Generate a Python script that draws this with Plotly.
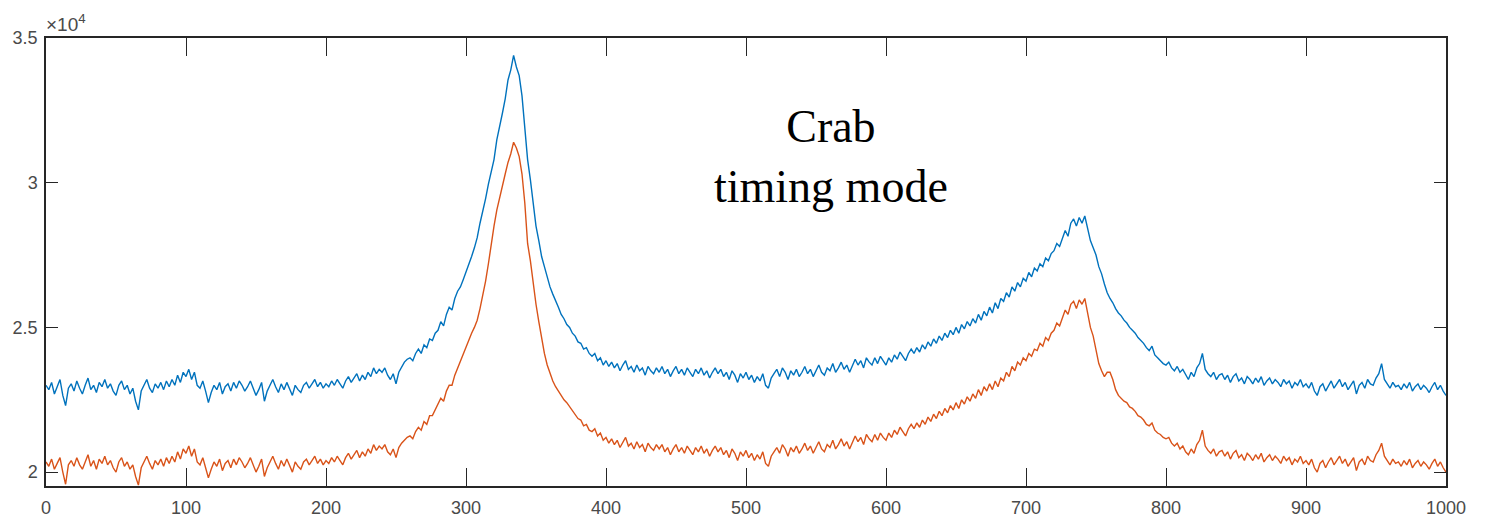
import plotly.graph_objects as go

# phase bins (every 2nd bin)
phase_bins = list(range(0, 1001, 2))

# blue series, counts in units of 10^4
blue_counts = [
    2.300, 2.285, 2.310, 2.270, 2.295, 2.320, 2.265, 2.230, 2.290, 2.305,
    2.280, 2.315, 2.290, 2.270, 2.300, 2.325, 2.285, 2.300, 2.275, 2.310,
    2.295, 2.320, 2.290, 2.305, 2.280, 2.265, 2.300, 2.315, 2.285, 2.300,
    2.270, 2.290, 2.245, 2.215, 2.280, 2.300, 2.320, 2.290, 2.275, 2.305,
    2.290, 2.310, 2.285, 2.315, 2.295, 2.320, 2.300, 2.335, 2.310, 2.345,
    2.330, 2.355, 2.320, 2.345, 2.300, 2.290, 2.315, 2.280, 2.240, 2.275,
    2.300, 2.285, 2.310, 2.270, 2.295, 2.305, 2.280, 2.310, 2.290, 2.315,
    2.300, 2.280, 2.295, 2.315, 2.290, 2.265, 2.285, 2.310, 2.245, 2.280,
    2.300, 2.320, 2.295, 2.275, 2.305, 2.285, 2.310, 2.290, 2.265, 2.300,
    2.285, 2.275, 2.300, 2.310, 2.290, 2.305, 2.320, 2.295, 2.310, 2.290,
    2.305, 2.295, 2.315, 2.300, 2.320, 2.305, 2.290, 2.315, 2.330, 2.310,
    2.325, 2.340, 2.315, 2.335, 2.320, 2.345, 2.330, 2.360, 2.340, 2.355,
    2.345, 2.360, 2.335, 2.320, 2.340, 2.305, 2.345, 2.365, 2.380, 2.390,
    2.395, 2.385, 2.410, 2.425, 2.410, 2.440, 2.430, 2.460, 2.455, 2.480,
    2.490, 2.520, 2.505, 2.545, 2.570, 2.560, 2.600, 2.625, 2.640, 2.665,
    2.690, 2.720, 2.745, 2.775, 2.810, 2.860, 2.900, 2.945, 2.995, 3.040,
    3.080, 3.148, 3.190, 3.240, 3.290, 3.355, 3.390, 3.440, 3.400, 3.370,
    3.300, 3.200, 3.080, 3.010, 2.920, 2.850, 2.800, 2.745, 2.710, 2.675,
    2.640, 2.615, 2.595, 2.570, 2.545, 2.530, 2.510, 2.500, 2.480, 2.470,
    2.450, 2.445, 2.425, 2.430, 2.410, 2.400, 2.410, 2.385, 2.395, 2.370,
    2.385, 2.365, 2.380, 2.360, 2.375, 2.350, 2.370, 2.385, 2.355, 2.365,
    2.345, 2.370, 2.350, 2.360, 2.335, 2.365, 2.350, 2.340, 2.360, 2.345,
    2.365, 2.340, 2.355, 2.330, 2.350, 2.365, 2.340, 2.355, 2.335, 2.360,
    2.345, 2.330, 2.355, 2.340, 2.360, 2.335, 2.350, 2.325, 2.345, 2.360,
    2.340, 2.355, 2.330, 2.345, 2.320, 2.350, 2.335, 2.310, 2.340, 2.325,
    2.345, 2.320, 2.335, 2.310, 2.330, 2.315, 2.340, 2.300, 2.290, 2.325,
    2.340, 2.355, 2.330, 2.360, 2.345, 2.320, 2.350, 2.335, 2.355, 2.330,
    2.345, 2.365, 2.340, 2.355, 2.330, 2.350, 2.370, 2.345, 2.335, 2.360,
    2.350, 2.375, 2.345, 2.360, 2.380, 2.355, 2.370, 2.345, 2.365, 2.390,
    2.370, 2.385, 2.360, 2.395, 2.380, 2.370, 2.395, 2.375, 2.400, 2.385,
    2.370, 2.395, 2.380, 2.405, 2.390, 2.415, 2.400, 2.385, 2.410, 2.425,
    2.410, 2.430, 2.415, 2.440, 2.425, 2.450, 2.435, 2.460, 2.445, 2.470,
    2.455, 2.480, 2.465, 2.490, 2.475, 2.500, 2.480, 2.510, 2.495, 2.520,
    2.505, 2.530, 2.515, 2.545, 2.525, 2.555, 2.540, 2.570, 2.550, 2.585,
    2.565, 2.600, 2.590, 2.620, 2.605, 2.640, 2.625, 2.655, 2.640, 2.670,
    2.660, 2.690, 2.675, 2.705, 2.695, 2.720, 2.710, 2.740, 2.730, 2.755,
    2.765, 2.790, 2.780, 2.810, 2.835, 2.815, 2.860, 2.875, 2.850, 2.880,
    2.860, 2.885, 2.840, 2.800, 2.775, 2.750, 2.710, 2.685, 2.650, 2.620,
    2.600, 2.585, 2.565, 2.550, 2.540, 2.525, 2.515, 2.500, 2.490, 2.480,
    2.465, 2.455, 2.445, 2.430, 2.420, 2.435, 2.405, 2.395, 2.385, 2.375,
    2.370, 2.380, 2.360, 2.350, 2.365, 2.345, 2.355, 2.335, 2.320, 2.345,
    2.330, 2.360, 2.375, 2.410, 2.355, 2.340, 2.330, 2.345, 2.320, 2.335,
    2.340, 2.320, 2.335, 2.310, 2.330, 2.340, 2.315, 2.325, 2.305, 2.330,
    2.320, 2.305, 2.325, 2.310, 2.330, 2.300, 2.315, 2.325, 2.305, 2.320,
    2.310, 2.295, 2.320, 2.305, 2.315, 2.290, 2.310, 2.300, 2.320, 2.295,
    2.305, 2.290, 2.310, 2.280, 2.265, 2.295, 2.305, 2.280, 2.300, 2.315,
    2.290, 2.305, 2.320, 2.295, 2.310, 2.285, 2.300, 2.315, 2.270, 2.300,
    2.310, 2.290, 2.320, 2.305, 2.300, 2.325, 2.340, 2.375, 2.320, 2.305,
    2.290, 2.310, 2.295, 2.300, 2.285, 2.305, 2.290, 2.310, 2.280, 2.295,
    2.305, 2.285, 2.300, 2.290, 2.275, 2.295, 2.310, 2.285, 2.300, 2.280,
    2.265,
]

# orange series, counts in units of 10^4
orange_counts = [
    2.035, 2.020, 2.045, 2.010, 2.030, 2.050, 2.000, 1.958, 2.025, 2.040,
    2.020, 2.050, 2.025, 2.010, 2.035, 2.060, 2.020, 2.040, 2.010, 2.045,
    2.030, 2.055, 2.025, 2.040, 2.015, 2.000, 2.035, 2.050, 2.020, 2.035,
    2.010, 2.025, 1.985, 1.955, 2.015, 2.035, 2.055, 2.030, 2.010, 2.040,
    2.025, 2.045, 2.020, 2.050, 2.030, 2.055, 2.035, 2.070, 2.045, 2.080,
    2.065, 2.090, 2.055, 2.080, 2.035, 2.025, 2.050, 2.015, 1.980, 2.010,
    2.035, 2.020, 2.045, 2.005, 2.030, 2.040, 2.015, 2.045, 2.025, 2.050,
    2.035, 2.015, 2.030, 2.050, 2.025, 2.000, 2.020, 2.045, 1.985, 2.015,
    2.035, 2.055, 2.030, 2.010, 2.040, 2.020, 2.045, 2.025, 2.000, 2.035,
    2.020, 2.010, 2.035, 2.045, 2.025, 2.040, 2.055, 2.030, 2.045, 2.025,
    2.040, 2.030, 2.050, 2.035, 2.055, 2.040, 2.025, 2.050, 2.065, 2.045,
    2.060, 2.075, 2.050, 2.070, 2.055, 2.080, 2.065, 2.095, 2.075, 2.090,
    2.080, 2.095, 2.070, 2.060, 2.080, 2.050, 2.085, 2.100, 2.110, 2.120,
    2.125, 2.115, 2.140, 2.155, 2.145, 2.175, 2.165, 2.195, 2.195, 2.215,
    2.230, 2.255, 2.245, 2.280, 2.300, 2.300, 2.335, 2.360, 2.380, 2.405,
    2.430, 2.455, 2.480, 2.500, 2.525, 2.565, 2.610, 2.660, 2.720, 2.790,
    2.850, 2.905, 2.950, 2.985, 3.030, 3.070, 3.100, 3.140, 3.120, 3.090,
    3.030, 2.930, 2.790, 2.730, 2.650, 2.580, 2.520, 2.460, 2.410, 2.370,
    2.340, 2.315, 2.295, 2.280, 2.265, 2.250, 2.240, 2.226, 2.215, 2.200,
    2.185, 2.180, 2.160, 2.165, 2.145, 2.140, 2.150, 2.125, 2.135, 2.110,
    2.120, 2.100, 2.115, 2.095, 2.110, 2.085, 2.105, 2.120, 2.090, 2.100,
    2.080, 2.105, 2.085, 2.095, 2.070, 2.100, 2.085, 2.075, 2.095, 2.080,
    2.095, 2.070, 2.085, 2.060, 2.080, 2.095, 2.070, 2.085, 2.065, 2.090,
    2.075, 2.060, 2.085, 2.070, 2.090, 2.065, 2.080, 2.055, 2.075, 2.090,
    2.070, 2.085, 2.060, 2.075, 2.050, 2.080, 2.065, 2.040, 2.070, 2.055,
    2.075, 2.050, 2.065, 2.040, 2.060, 2.045, 2.070, 2.030, 2.020, 2.055,
    2.070, 2.085, 2.065, 2.095, 2.080, 2.055, 2.085, 2.070, 2.090, 2.065,
    2.080, 2.100, 2.075, 2.090, 2.065, 2.085, 2.105, 2.080, 2.070, 2.095,
    2.085, 2.110, 2.080, 2.095, 2.115, 2.090, 2.105, 2.080, 2.100, 2.125,
    2.105, 2.120, 2.095, 2.130, 2.115, 2.105, 2.130, 2.110, 2.135, 2.120,
    2.110, 2.135, 2.120, 2.145, 2.130, 2.155, 2.140, 2.125, 2.150, 2.165,
    2.150, 2.170, 2.155, 2.180, 2.165, 2.190, 2.175, 2.200, 2.185, 2.210,
    2.195, 2.220, 2.205, 2.230, 2.215, 2.240, 2.220, 2.250, 2.235, 2.260,
    2.245, 2.270, 2.255, 2.285, 2.265, 2.295, 2.280, 2.305, 2.285, 2.315,
    2.295, 2.325, 2.315, 2.345, 2.330, 2.365, 2.350, 2.380, 2.370, 2.395,
    2.385, 2.410, 2.400, 2.425, 2.420, 2.445, 2.435, 2.465, 2.455, 2.480,
    2.490, 2.515, 2.505, 2.535, 2.560, 2.545, 2.580, 2.590, 2.565, 2.595,
    2.580, 2.600, 2.545, 2.500, 2.470, 2.420, 2.375, 2.350, 2.330, 2.345,
    2.345, 2.320, 2.285, 2.265, 2.255, 2.245, 2.240, 2.225, 2.220, 2.210,
    2.195, 2.190, 2.180, 2.165, 2.160, 2.170, 2.145, 2.135, 2.130, 2.120,
    2.115, 2.120, 2.100, 2.090, 2.100, 2.080, 2.090, 2.070, 2.060, 2.080,
    2.065, 2.095, 2.110, 2.145, 2.090, 2.075, 2.065, 2.080, 2.055, 2.070,
    2.075, 2.055, 2.070, 2.045, 2.065, 2.075, 2.050, 2.060, 2.040, 2.065,
    2.055, 2.040, 2.060, 2.045, 2.065, 2.035, 2.050, 2.060, 2.040, 2.055,
    2.045, 2.030, 2.055, 2.040, 2.050, 2.025, 2.045, 2.035, 2.055, 2.030,
    2.040, 2.025, 2.045, 2.015, 2.000, 2.030, 2.040, 2.015, 2.035, 2.050,
    2.025, 2.040, 2.055, 2.030, 2.045, 2.020, 2.035, 2.050, 2.005, 2.035,
    2.045, 2.025, 2.055, 2.040, 2.035, 2.060, 2.075, 2.100, 2.055, 2.040,
    2.025, 2.045, 2.030, 2.035, 2.020, 2.040, 2.025, 2.045, 2.015, 2.030,
    2.040, 2.020, 2.035, 2.025, 2.010, 2.030, 2.045, 2.020, 2.035, 2.015,
    2.000,
]

x_tick_vals = list(range(0, 1001, 100))
x_tick_text = [str(v) for v in x_tick_vals]
y_tick_vals = [2.0, 2.5, 3.0, 3.5]
y_tick_text = ["2", "2.5", "3", "3.5"]

fig = go.Figure()
fig.add_trace(go.Scatter(x=phase_bins, y=blue_counts, mode="lines",
                         line=dict(color="#0072BD", width=1.4), showlegend=False))
fig.add_trace(go.Scatter(x=phase_bins, y=orange_counts, mode="lines",
                         line=dict(color="#D95319", width=1.4), showlegend=False))

axis_common = dict(showline=True, linecolor="#262626", linewidth=1.5, mirror="allticks",
                   ticks="inside", tickcolor="#262626", tickwidth=1.3,
                   showgrid=False, zeroline=False, automargin=False,
                   tickfont=dict(family="Liberation Sans", size=18, color="#4a4a4a"))

fig.update_xaxes(range=[0, 1000], tickvals=x_tick_vals, ticktext=x_tick_text,
                 ticklen=18, ticklabelstandoff=5, **axis_common)
fig.update_yaxes(range=[1.952, 3.5], tickvals=y_tick_vals, ticktext=y_tick_text,
                 ticklen=12, ticklabelstandoff=3, **axis_common)

fig.add_annotation(text="×10<sup>4</sup>", xref="paper", yref="paper", x=0, y=1,
                   xanchor="left", yanchor="bottom", xshift=-2, yshift=1, showarrow=False,
                   font=dict(family="Liberation Sans", size=19, color="#4a4a4a"))
fig.add_annotation(text="Crab<br>timing mode", xref="paper", yref="paper", x=0.561, y=0.735,
                   xanchor="center", yanchor="middle", showarrow=False,
                   font=dict(family="Liberation Serif", size=46, color="black"))

fig.update_layout(width=1491, height=522, margin=dict(l=46, r=45, t=38, b=36),
                  plot_bgcolor="white", paper_bgcolor="white")

fig.write_html("out.html")
